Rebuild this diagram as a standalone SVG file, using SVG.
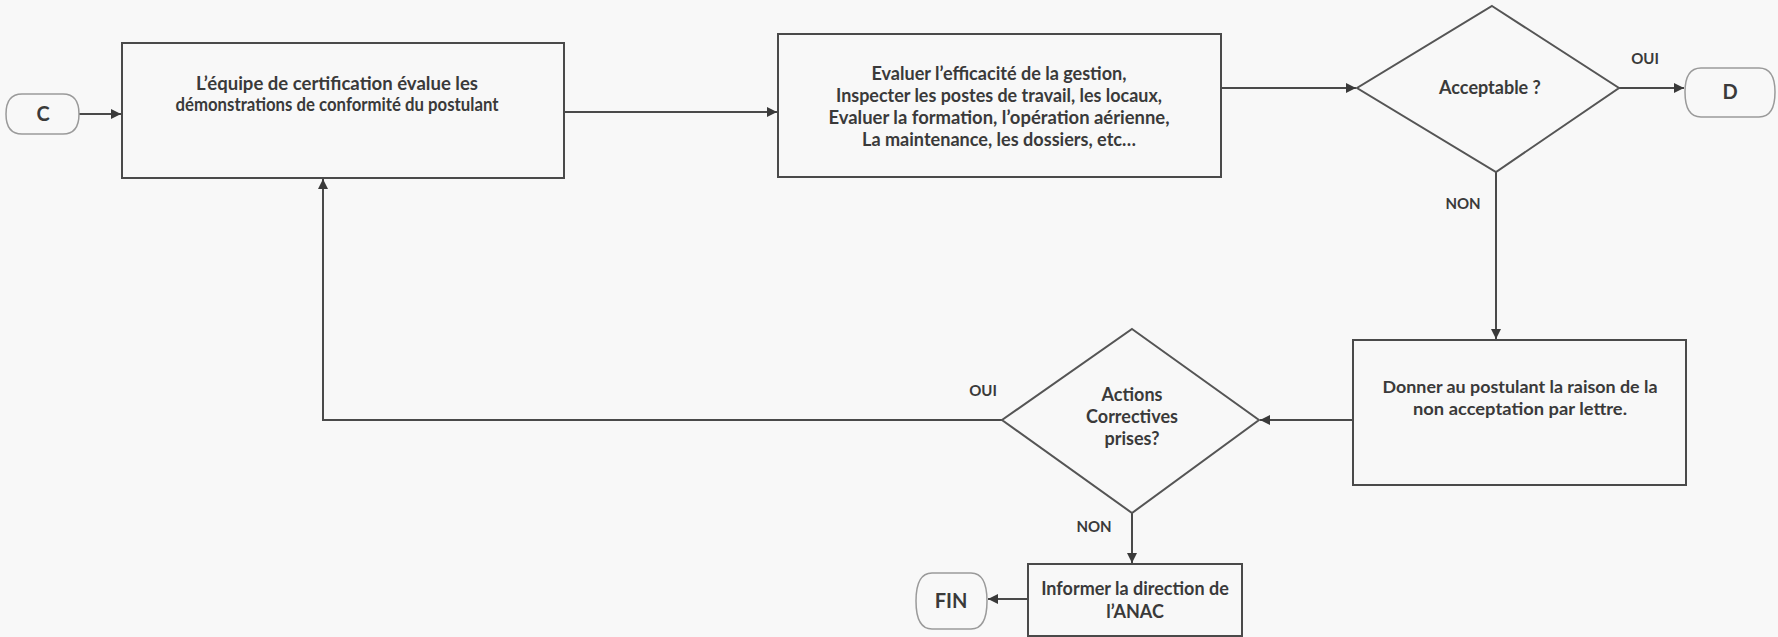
<svg xmlns="http://www.w3.org/2000/svg" width="1778" height="637" viewBox="0 0 1778 637">
<style>
.bg{fill:#f8f8f8}
.box{fill:#f8f8f8;stroke:#4a4a4a;stroke-width:2}
.term{fill:#f8f8f8;stroke:#9a9a9a;stroke-width:1.5}
.dia{fill:#f8f8f8;stroke:#555;stroke-width:2}
.t{font-family:Lato,"Liberation Sans",sans-serif;font-weight:700;font-size:18px;fill:#3a3a3a;text-anchor:middle}
.n{font-size:17px}
.big{font-size:20px}
.lbl{font-family:Lato,"Liberation Sans",sans-serif;font-weight:700;font-size:15px;fill:#3a3a3a;text-anchor:middle}
.c{fill:none;stroke:#4a4a4a;stroke-width:2}
</style>
<defs>
<marker id="ah" viewBox="0 0 10 10" refX="10" refY="5" markerWidth="5" markerHeight="5" orient="auto" markerUnits="strokeWidth">
<path d="M0,0 L10,5 L0,10 Z" fill="#3a3a3a"/>
</marker>
</defs>
<rect class="bg" x="0" y="0" width="1778" height="637"/>
<g id="connectors">
<line class="c" x1="79" y1="114" x2="121" y2="114" marker-end="url(#ah)"/>
<line class="c" x1="564" y1="112" x2="777" y2="112" marker-end="url(#ah)"/>
<line class="c" x1="1221" y1="88" x2="1356" y2="88" marker-end="url(#ah)"/>
<line class="c" x1="1619" y1="88" x2="1684" y2="88" marker-end="url(#ah)"/>
<line class="c" x1="1496" y1="172" x2="1496" y2="339" marker-end="url(#ah)"/>
<line class="c" x1="1353" y1="420" x2="1260" y2="420" marker-end="url(#ah)"/>
<polyline class="c" points="1002,420 323,420 323,179" marker-end="url(#ah)"/>
<line class="c" x1="1132" y1="513" x2="1132" y2="563" marker-end="url(#ah)"/>
<line class="c" x1="1028" y1="599" x2="988" y2="599" marker-end="url(#ah)"/>
<text class="lbl" x="1645" y="64">OUI</text>
<text class="lbl" x="1463" y="209">NON</text>
<text class="lbl" x="983" y="396">OUI</text>
<text class="lbl" x="1094" y="532">NON</text>
</g>
<g id="node-c">
<path class="term" d="M22,94 H63 Q79,94 79,114 Q79,134 63,134 H22 Q6,134 6,114 Q6,94 22,94 Z"/>
<text class="t big" x="43" y="121">C</text>
</g>
<g id="node-eval">
<rect class="box" x="122" y="43" width="442" height="135"/>
<text class="t" x="337" y="90" textLength="282" lengthAdjust="spacingAndGlyphs">L’équipe de certification évalue les</text>
<text class="t" x="337" y="111" textLength="323" lengthAdjust="spacingAndGlyphs">démonstrations de conformité du postulant</text>
</g>
<g id="node-inspect">
<rect class="box" x="778" y="34" width="443" height="143"/>
<text class="t" x="999" y="80" textLength="255" lengthAdjust="spacingAndGlyphs">Evaluer l’efficacité de la gestion,</text>
<text class="t" x="999" y="102" textLength="326" lengthAdjust="spacingAndGlyphs">Inspecter les postes de travail, les locaux,</text>
<text class="t" x="999" y="124" textLength="341" lengthAdjust="spacingAndGlyphs">Evaluer la formation, l’opération aérienne,</text>
<text class="t" x="999" y="146" textLength="274" lengthAdjust="spacingAndGlyphs">La maintenance, les dossiers, etc…</text>
</g>
<g id="node-acceptable">
<polygon class="dia" points="1492,6 1619,88 1496,172 1357,88"/>
<text class="t" x="1490" y="94">Acceptable ?</text>
</g>
<g id="node-d">
<path class="term" d="M1701,68 H1759 Q1775,68 1775,92 Q1775,117 1759,117 H1701 Q1685,117 1685,92 Q1685,68 1701,68 Z"/>
<text class="t big" x="1730" y="99">D</text>
</g>
<g id="node-reason">
<rect class="box" x="1353" y="340" width="333" height="145"/>
<text class="t n" x="1520" y="393" textLength="275" lengthAdjust="spacingAndGlyphs">Donner au postulant la raison de la</text>
<text class="t n" x="1520" y="415" textLength="214" lengthAdjust="spacingAndGlyphs">non acceptation par lettre.</text>
</g>
<g id="node-actions">
<polygon class="dia" points="1132,329 1259,420 1132,513 1002,420"/>
<text class="t" x="1132" y="401">Actions</text>
<text class="t" x="1132" y="423">Correctives</text>
<text class="t" x="1132" y="445">prises?</text>
</g>
<g id="node-inform">
<rect class="box" x="1028" y="564" width="214" height="72"/>
<text class="t" x="1135" y="595">Informer la direction de</text>
<text class="t" x="1135" y="618">l’ANAC</text>
</g>
<g id="node-fin">
<path class="term" d="M932,573 H971 Q987,573 987,601 Q987,629 971,629 H932 Q916,629 916,601 Q916,573 932,573 Z"/>
<text class="t big" x="951" y="608">FIN</text>
</g>
</svg>
